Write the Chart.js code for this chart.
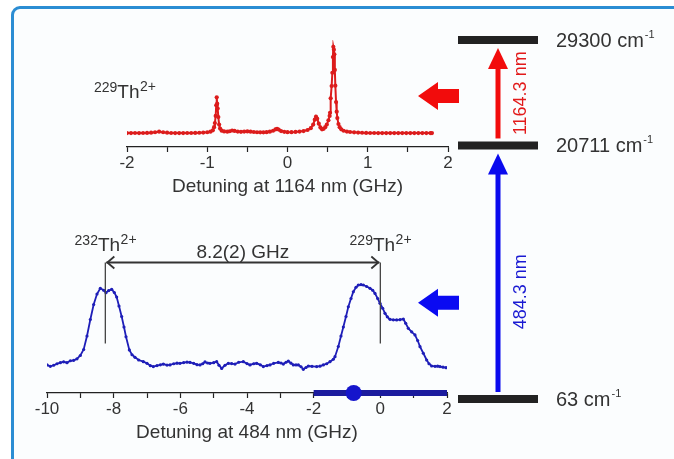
<!DOCTYPE html>
<html>
<head>
<meta charset="utf-8">
<script src="https://cdn.jsdelivr.net/npm/chart.js@4.4.1/dist/chart.umd.min.js"></script>
<style>
  html, body { margin: 0; padding: 0; background: #fff; }
  body { width: 674px; height: 459px; position: relative; overflow: hidden; }
  #frame { position: absolute; left: 11px; top: 6px; width: 700px; height: 480px;
           border: 3px solid #2b8dd3; border-radius: 9px; background: #fbfdfe; }
  canvas { position: absolute; }
</style>
</head>
<body>
<div id="frame"></div>
<canvas id="topChart" width="421" height="187" style="left:47px;top:20px"></canvas>
<canvas id="bottomChart" width="460" height="240" style="left:7px;top:213px"></canvas>
<canvas id="levelChart" width="274" height="459" style="left:400px;top:0px"></canvas>
<script>
// 229Th2+ spectrum, detuning at 1164 nm (GHz) / signal (arb.)
const redX = [-2.00,-1.95,-1.90,-1.85,-1.80,-1.75,-1.70,-1.65,-1.60,-1.55,-1.50,-1.45,-1.40,-1.35,-1.30,-1.25,-1.20,-1.15,-1.10,-1.05,
  -1.00,-0.96,-0.93,-0.915,-0.905,-0.895,-0.888,-0.882,-0.876,-0.870,-0.862,-0.852,-0.840,-0.820,-0.790,-0.750,-0.720,-0.690,-0.660,-0.620,
  -0.580,-0.540,-0.500,-0.460,-0.420,-0.380,-0.340,-0.300,-0.260,-0.220,-0.180,-0.150,-0.130,-0.110,-0.080,-0.040,0.000,0.050,0.100,0.150,
  0.200,0.250,0.290,0.320,0.340,0.355,0.370,0.390,0.410,0.430,0.450,0.470,0.490,0.510,0.525,0.530,0.538,0.550,0.559,0.566,
  0.571,0.578,0.584,0.590,0.596,0.605,0.613,0.621,0.635,0.650,0.670,0.700,0.740,0.780,0.830,0.880,0.930,0.980,1.03,1.08,
  1.13,1.18,1.23,1.28,1.33,1.38,1.43,1.48,1.53,1.58,1.63,1.68,1.73,1.78,1.80];
const redY = [13.0,13.0,13.1,13.0,13.1,13.2,13.4,13.8,14.3,13.8,13.4,13.1,13.0,13.0,13.0,13.1,13.1,13.2,13.3,13.5,
  13.8,14.3,15.6,18.5,22.4,29.0,39.0,46.4,40.5,36.0,28.0,21.0,17.2,15.3,14.6,14.3,14.7,15.4,15.0,14.4,
  14.2,14.4,14.6,14.3,14.0,13.8,13.7,13.7,13.9,14.3,15.2,16.4,17.0,16.3,14.9,14.2,13.9,13.9,14.1,14.4,
  14.9,15.9,17.6,21.0,25.5,28.3,26.5,21.8,18.3,16.5,17.0,18.5,21.0,25.0,29.0,32.0,45.5,57.0,69.4,84.0,
  93.7,91.0,86.6,72.0,57.3,42.0,33.0,27.0,21.5,18.5,16.5,15.2,14.4,14.0,13.7,13.5,13.3,13.2,13.1,13.1,
  13.0,13.0,13.0,13.0,13.0,13.0,13.0,13.0,13.0,13.0,13.0,13.0,13.0,13.0,13.0];
const topTicks = [-2, -1, 0, 1, 2];

// 232Th2+ / 229Th2+ spectrum, detuning at 484 nm (GHz) / signal (arb.)
const blueX = [-10.0,-9.9,-9.8,-9.7,-9.6,-9.5,-9.4,-9.3,-9.2,-9.1,-9.0,-8.9,-8.8,-8.7,-8.6,-8.5,-8.4,-8.3,-8.23,-8.15,
  -8.06,-7.98,-7.91,-7.84,-7.76,-7.69,-7.63,-7.53,-7.45,-7.36,-7.25,-7.11,-7.0,-6.9,-6.81,-6.7,-6.6,-6.51,-6.4,-6.31,
  -6.2,-6.1,-6.01,-5.9,-5.8,-5.71,-5.6,-5.5,-5.41,-5.33,-5.26,-5.18,-5.11,-5.0,-4.91,-4.84,-4.76,-4.66,-4.56,-4.46,
  -4.36,-4.25,-4.11,-4.0,-3.91,-3.8,-3.71,-3.6,-3.51,-3.4,-3.31,-3.2,-3.06,-2.98,-2.91,-2.83,-2.76,-2.68,-2.61,-2.53,
  -2.46,-2.38,-2.31,-2.23,-2.16,-2.05,-1.91,-1.81,-1.71,-1.61,-1.51,-1.41,-1.36,-1.26,-1.18,-1.11,-1.03,-0.96,-0.88,-0.81,
  -0.73,-0.66,-0.58,-0.51,-0.41,-0.31,-0.23,-0.16,-0.08,-0.01,0.07,0.14,0.21,0.29,0.39,0.49,0.59,0.69,0.76,0.84,
  0.94,1.04,1.12,1.19,1.29,1.39,1.46,1.54,1.64,1.72,1.79,1.88,1.97];
const blueY = [18.7,17.8,18.5,19.5,20.2,20.8,20.2,21.5,21.8,22.8,25.0,29.0,38.0,49.0,59.0,66.0,69.8,68.5,66.9,68.3,
  69.1,67.0,64.0,58.0,51.0,44.0,37.5,28.7,25.5,23.8,22.0,20.9,19.8,18.2,17.6,18.3,18.8,19.3,18.6,18.7,
  19.5,19.9,19.8,20.3,20.6,20.4,19.8,18.9,18.7,19.5,20.7,20.0,19.8,20.2,20.9,18.5,16.4,18.5,19.8,19.6,
  19.3,20.5,20.9,19.6,18.7,19.5,19.8,18.8,17.6,18.3,18.7,19.8,20.4,20.0,19.3,20.5,21.3,19.9,18.7,18.7,
  18.7,17.5,15.8,17.0,18.0,17.8,17.6,17.9,18.7,19.5,20.9,22.5,24.2,31.0,38.0,44.0,51.0,57.5,63.0,67.5,
  70.5,72.0,72.3,72.0,71.0,69.8,68.5,66.4,63.0,59.8,56.5,53.1,50.8,49.1,48.8,48.7,48.9,49.3,46.5,43.1,
  40.8,38.7,35.0,30.9,26.5,22.0,19.5,18.0,17.8,17.9,17.6,17.2,16.9];
const bottomTicks = [-10, -8, -6, -4, -2, 0, 2];
const scanRange = [-2, 2];
const scanDot = -0.8;
const isoX = [-8.25, 0];
const isoMass = ['232', '229'];
const markerSpan = [33, 87];
const shiftText = '8.2(2) GHz';

// level scheme (cm-1) and transitions
const levelE = [63, 20711, 29300];
const levelText = ['63', '20711', '29300'];
const transFrom = [63, 20711];
const transTo = [20711, 29300];
const transText = ['484.3 nm', '1164.3 nm'];

const FONT = '"Liberation Sans", Arial, sans-serif';
const INK = '#333';

function isoLabel(ctx, mass, x, base, align) {
  ctx.save();
  ctx.fillStyle = INK;
  ctx.textAlign = 'left';
  ctx.textBaseline = 'alphabetic';
  const sup = '14px ' + FONT, main = '19px ' + FONT;
  ctx.font = sup;
  const w1 = ctx.measureText(mass).width;
  const w3 = ctx.measureText('2+').width;
  ctx.font = main;
  const w2 = ctx.measureText('Th').width;
  const x0 = align === 'center' ? x - (w1 + w2 + w3) / 2 : x;
  ctx.font = sup; ctx.fillText(mass, x0, base - 6);
  ctx.font = main; ctx.fillText('Th', x0 + w1, base);
  ctx.font = sup; ctx.fillText('2+', x0 + w1 + w2 + 0.5, base - 7);
  ctx.restore();
}

function blockArrow(ctx, xTip, yc, color) {
  ctx.save();
  ctx.fillStyle = color;
  ctx.beginPath();
  ctx.moveTo(xTip, yc);
  ctx.lineTo(xTip + 20, yc - 14);
  ctx.lineTo(xTip + 20, yc - 7);
  ctx.lineTo(xTip + 41, yc - 7);
  ctx.lineTo(xTip + 41, yc + 7);
  ctx.lineTo(xTip + 20, yc + 7);
  ctx.lineTo(xTip + 20, yc + 14);
  ctx.closePath();
  ctx.fill();
  ctx.restore();
}

function spectrumOptions(min, max, step, ticks, title, pad) {
  return {
    responsive: false,
    animation: false,
    devicePixelRatio: 1,
    layout: { padding: pad },
    plugins: { legend: { display: false }, tooltip: { enabled: false } },
    scales: {
      x: {
        type: 'linear', min: min, max: max,
        afterFit: s => { s.height = 60; },
        grid: { drawOnChartArea: false, drawTicks: true, tickLength: 5, color: '#222', tickWidth: 1.2 },
        border: { display: true, color: '#222', width: 1.2 },
        ticks: {
          stepSize: step, autoSkip: false, maxRotation: 0, padding: 1, color: INK,
          font: { family: FONT, size: 17 },
          callback: v => ticks.includes(v) ? String(v) : ''
        },
        title: { display: true, text: title, color: INK, font: { family: FONT, size: 19 }, padding: { top: 0, bottom: 9 } }
      },
      y: { display: false, min: 0, max: 100 }
    }
  };
}

const topDecor = {
  id: 'topDecor',
  afterDatasetsDraw(chart) {
    const { ctx, chartArea: a, scales: { y } } = chart;
    isoLabel(ctx, '229', a.left - 33, y.getPixelForValue(46), 'left');
    blockArrow(ctx, a.right - 30, y.getPixelForValue(47.7), '#f20c0c');
  }
};

const bottomDecor = {
  id: 'bottomDecor',
  afterDatasetsDraw(chart) {
    const { ctx, chartArea: a, scales: { x, y } } = chart;
    const yTop = y.getPixelForValue(markerSpan[1]);
    const yBot = y.getPixelForValue(markerSpan[0]);
    const xs = isoX.map(v => x.getPixelForValue(v));
    ctx.save();
    ctx.strokeStyle = '#444';
    ctx.lineWidth = 1.3;
    xs.forEach(px => {
      ctx.beginPath(); ctx.moveTo(px, yTop); ctx.lineTo(px, yBot); ctx.stroke();
    });
    ctx.strokeStyle = '#333';
    ctx.lineWidth = 1.8;
    ctx.beginPath(); ctx.moveTo(xs[0] + 1, yTop); ctx.lineTo(xs[1] - 1, yTop); ctx.stroke();
    ctx.beginPath();
    ctx.moveTo(xs[0] + 9, yTop - 6); ctx.lineTo(xs[0] + 2, yTop); ctx.lineTo(xs[0] + 9, yTop + 6);
    ctx.moveTo(xs[1] - 9, yTop - 6); ctx.lineTo(xs[1] - 2, yTop); ctx.lineTo(xs[1] - 9, yTop + 6);
    ctx.stroke();
    ctx.fillStyle = INK;
    ctx.font = '19px ' + FONT;
    ctx.textAlign = 'center';
    ctx.textBaseline = 'alphabetic';
    ctx.fillText(shiftText, (xs[0] + xs[1]) / 2, yTop - 5);
    ctx.restore();
    xs.forEach((px, i) => isoLabel(ctx, isoMass[i], px, yTop - 12, 'center'));
    blockArrow(ctx, a.right - 29, y.getPixelForValue(60.2), '#0a0af2');
  }
};

const transColor = ['#0a0aee', '#f20c0c'];
const transInk = ['#1a1ad2', '#e21a1a'];
const labelAt = [0.42, 0.5];

const levelDecor = {
  id: 'levelDecor',
  afterDatasetsDraw(chart) {
    const { ctx, chartArea: a, scales: { x, y } } = chart;
    const cx = x.getPixelForValue(0.5);
    transFrom.forEach((e0, i) => {
      const y0 = y.getPixelForValue(e0) - 7;
      const y1 = y.getPixelForValue(transTo[i]) + 8;
      ctx.save();
      ctx.strokeStyle = transColor[i];
      ctx.fillStyle = transColor[i];
      ctx.lineWidth = 5;
      ctx.beginPath(); ctx.moveTo(cx, y0); ctx.lineTo(cx, y1 + 18); ctx.stroke();
      ctx.beginPath();
      ctx.moveTo(cx, y1); ctx.lineTo(cx - 10, y1 + 21); ctx.lineTo(cx + 10, y1 + 21);
      ctx.closePath(); ctx.fill();
      ctx.translate(cx + 23, y0 + (y1 - y0) * labelAt[i]);
      ctx.rotate(-Math.PI / 2);
      ctx.fillStyle = transInk[i];
      ctx.font = '18px ' + FONT;
      ctx.textAlign = 'center';
      ctx.textBaseline = 'middle';
      ctx.fillText(transText[i], 0, 0);
      ctx.restore();
    });
    ctx.save();
    ctx.fillStyle = INK;
    ctx.textAlign = 'left';
    ctx.textBaseline = 'alphabetic';
    levelE.forEach((e, i) => {
      const py = y.getPixelForValue(e) + 7;
      const txt = levelText[i] + ' cm';
      ctx.font = '20px ' + FONT;
      ctx.fillText(txt, a.right + 18, py);
      const w = ctx.measureText(txt).width;
      ctx.font = '11px ' + FONT;
      ctx.fillText('-1', a.right + 19 + w, py - 9);
    });
    ctx.restore();
  }
};

new Chart(document.getElementById('topChart'), {
  type: 'scatter',
  data: {
    datasets: [{
      data: redX.map((v, i) => ({ x: v, y: redY[i] })),
      showLine: true, borderColor: '#dc1c1c', backgroundColor: '#dc1c1c',
      borderWidth: 2, pointRadius: 2.1, pointBorderWidth: 0
    }]
  },
  options: spectrumOptions(-2, 2, 0.5, topTicks, 'Detuning at 1164 nm (GHz)', { left: 80, right: 20, top: 20, bottom: 0 }),
  plugins: [topDecor]
});

new Chart(document.getElementById('bottomChart'), {
  type: 'scatter',
  data: {
    datasets: [
      { data: [{ x: scanDot, y: 0 }], pointRadius: 8, backgroundColor: '#1515cc', pointBorderWidth: 0, clip: false },
      { data: scanRange.map(v => ({ x: v, y: 0 })), showLine: true, borderColor: '#1b1b9e', borderWidth: 6,
        pointRadius: 0, borderCapStyle: 'butt', clip: false },
      { data: blueX.map((v, i) => ({ x: v, y: blueY[i] })),
        showLine: true, borderColor: '#1e1eb8', backgroundColor: '#1e1eb8',
        borderWidth: 1.8, pointRadius: 1.6, pointBorderWidth: 0 }
    ]
  },
  options: spectrumOptions(-10, 2, 1, bottomTicks, 'Detuning at 484 nm (GHz)', { left: 40, right: 20, top: 30, bottom: 0 }),
  plugins: [bottomDecor]
});

new Chart(document.getElementById('levelChart'), {
  type: 'scatter',
  data: {
    datasets: levelE.map(e => ({
      data: [{ x: 0, y: e }, { x: 1, y: e }],
      showLine: true, borderColor: '#222', borderWidth: 8, pointRadius: 0, borderCapStyle: 'butt', clip: false
    }))
  },
  options: {
    responsive: false, animation: false, devicePixelRatio: 1,
    layout: { padding: { left: 58, right: 136, top: 40, bottom: 60 } },
    plugins: { legend: { display: false }, tooltip: { enabled: false } },
    scales: {
      x: { display: false, min: 0, max: 1 },
      y: { display: false, min: 63, max: 29300 }
    }
  },
  plugins: [levelDecor]
});
</script>
</body>
</html>
